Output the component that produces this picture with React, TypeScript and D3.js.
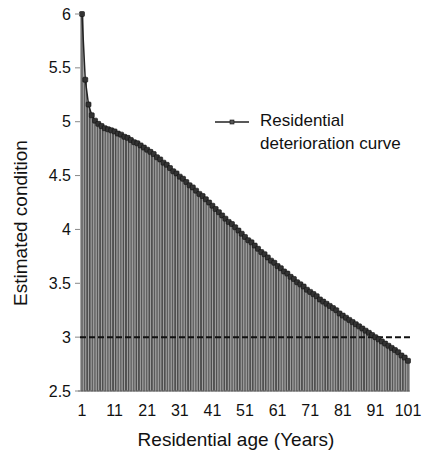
import { useEffect, useRef } from 'react'
import * as d3 from 'd3'

const ages = d3.range(1, 102)
const condition = [
  6.0, 5.39, 5.16, 5.06, 5.01, 4.98, 4.96, 4.94, 4.93, 4.92,
  4.91, 4.89, 4.88, 4.86, 4.85, 4.83, 4.81, 4.8, 4.78, 4.76,
  4.74, 4.72, 4.7, 4.67, 4.65, 4.62, 4.6, 4.57, 4.54, 4.52,
  4.49, 4.47, 4.44, 4.41, 4.39, 4.36, 4.33, 4.31, 4.28, 4.25,
  4.22, 4.19, 4.16, 4.13, 4.1, 4.07, 4.05, 4.02, 3.99, 3.96,
  3.93, 3.9, 3.88, 3.85, 3.82, 3.79, 3.77, 3.74, 3.71, 3.69,
  3.66, 3.64, 3.61, 3.59, 3.56, 3.54, 3.51, 3.49, 3.47, 3.44,
  3.42, 3.4, 3.38, 3.35, 3.33, 3.31, 3.29, 3.27, 3.25, 3.22,
  3.2, 3.18, 3.16, 3.14, 3.12, 3.1, 3.08, 3.06, 3.04, 3.02,
  3.0, 2.98, 2.96, 2.94, 2.92, 2.9, 2.88, 2.86, 2.83, 2.81,
  2.78,
]
const xTicks = [1, 11, 21, 31, 41, 51, 61, 71, 81, 91, 101]
const yTicks = [2.5, 3, 3.5, 4, 4.5, 5, 5.5, 6]
const threshold = 3
const seriesName = ['Residential', 'deterioration curve']

export default function App() {
  const ref = useRef<SVGSVGElement>(null)

  useEffect(() => {
    if (!ref.current) return
    const svg = d3.select(ref.current)
    svg.selectAll('*').remove()

    const font = 'Liberation Sans, Arial, sans-serif'
    const x = d3.scaleLinear().domain([1, 101]).range([82, 408])
    const y = d3.scaleLinear().domain([2.5, 6]).range([391, 14])
    const step = x(2) - x(1)
    const bw = step * 0.62

    const data = ages.map((a, i) => ({ age: a, v: condition[i] }))

    // bars
    svg
      .append('g')
      .selectAll('rect')
      .data(data)
      .join('rect')
      .attr('x', d => x(d.age) - bw / 2)
      .attr('y', d => y(d.v))
      .attr('width', bw)
      .attr('height', d => y(2.5) - y(d.v))
      .attr('fill', '#a0a0a0')
      .attr('stroke', '#262626')
      .attr('stroke-width', 0.75)

    // baseline
    svg
      .append('line')
      .attr('x1', 78)
      .attr('x2', 410)
      .attr('y1', y(2.5))
      .attr('y2', y(2.5))
      .attr('stroke', '#777')
      .attr('stroke-width', 1)

    // threshold dashed line
    svg
      .append('line')
      .attr('x1', 80)
      .attr('x2', 410)
      .attr('y1', y(threshold))
      .attr('y2', y(threshold))
      .attr('stroke', '#111')
      .attr('stroke-width', 2)
      .attr('stroke-dasharray', '6,3')

    // curve
    const line = d3
      .line<{ age: number; v: number }>()
      .x(d => x(d.age))
      .y(d => y(d.v))
    svg
      .append('path')
      .datum(data)
      .attr('fill', 'none')
      .attr('stroke', '#222')
      .attr('stroke-width', 1.5)
      .attr('d', line)

    svg
      .append('g')
      .selectAll('rect')
      .data(data)
      .join('rect')
      .attr('x', d => x(d.age) - 2.5)
      .attr('y', d => y(d.v) - 2.5)
      .attr('width', 5)
      .attr('height', 5)
      .attr('rx', 1)
      .attr('fill', '#333')
      .attr('stroke', '#111')
      .attr('stroke-width', 0.6)

    // y axis ticks
    const yAxis = svg.append('g')
    yTicks.forEach(t => {
      yAxis
        .append('line')
        .attr('x1', 75)
        .attr('x2', 80)
        .attr('y1', y(t))
        .attr('y2', y(t))
        .attr('stroke', '#888')
      yAxis
        .append('text')
        .attr('x', 71)
        .attr('y', y(t))
        .attr('dy', '0.35em')
        .attr('text-anchor', 'end')
        .style('font-family', font)
        .style('font-size', '16px')
        .style('fill', '#111')
        .text(String(t))
    })

    // x axis labels
    xTicks.forEach(t => {
      svg
        .append('text')
        .attr('x', x(t))
        .attr('y', 410)
        .attr('dy', '0.35em')
        .attr('text-anchor', 'middle')
        .style('font-family', font)
        .style('font-size', '16px')
        .style('fill', '#111')
        .text(String(t))
    })

    svg
      .append('text')
      .attr('x', 236)
      .attr('y', 439)
      .attr('dy', '0.35em')
      .attr('text-anchor', 'middle')
      .style('font-family', font)
      .style('font-size', '19px')
      .style('fill', '#111')
      .text('Residential age (Years)')

    svg
      .append('text')
      .attr('transform', 'translate(20,223) rotate(-90)')
      .attr('dy', '0.35em')
      .attr('text-anchor', 'middle')
      .style('font-family', font)
      .style('font-size', '19px')
      .style('fill', '#111')
      .text('Estimated condition')

    // legend
    const lg = svg.append('g')
    lg.append('line')
      .attr('x1', 215)
      .attr('x2', 249)
      .attr('y1', 122)
      .attr('y2', 122)
      .attr('stroke', '#222')
      .attr('stroke-width', 1.5)
    lg.append('rect')
      .attr('x', 230)
      .attr('y', 120)
      .attr('width', 4)
      .attr('height', 4)
      .attr('fill', '#555')
      .attr('stroke', '#111')
      .attr('stroke-width', 0.6)
    seriesName.forEach((s, i) => {
      lg.append('text')
        .attr('x', 260)
        .attr('y', 120 + i * 23)
        .attr('dy', '0.35em')
        .style('font-family', font)
        .style('font-size', '17px')
        .style('fill', '#111')
        .text(s)
    })
  }, [])

  return (
    <svg
      ref={ref}
      width={422}
      height={453}
      style={{ position: 'absolute', left: 0, top: 0, background: '#fff' }}
    />
  )
}
